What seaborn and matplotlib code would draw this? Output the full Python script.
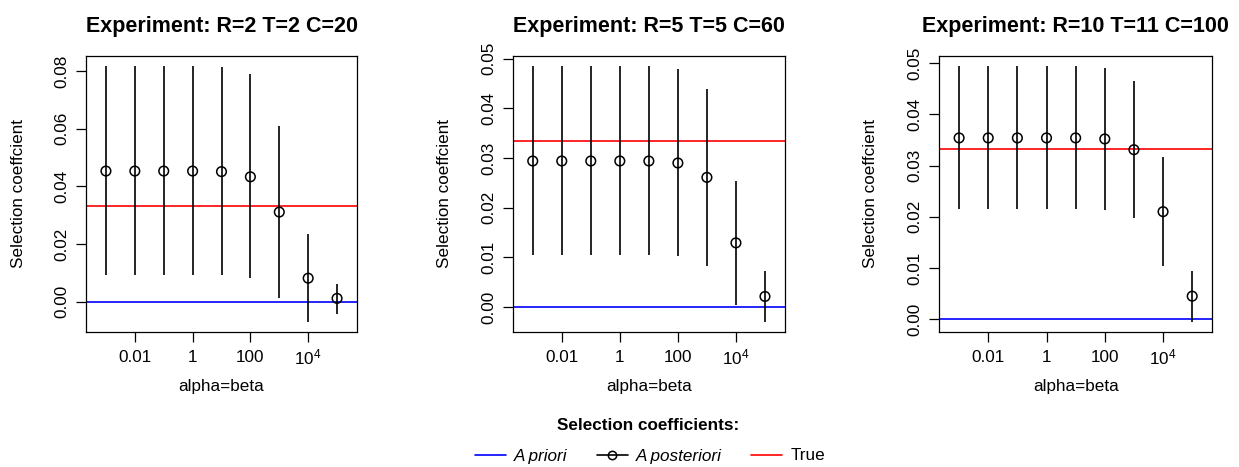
import numpy as np
import pandas as pd
import matplotlib
matplotlib.use("Agg")
import matplotlib.pyplot as plt
import matplotlib.transforms as mtransforms
from matplotlib.lines import Line2D
import seaborn as sns

# ---------------- data ----------------
alphas = [1e-3, 1e-2, 1e-1, 1e0, 1e1, 1e2, 1e3, 1e4, 1e5]
titles = ["Experiment: R=2 T=2 C=20",
          "Experiment: R=5 T=5 C=60",
          "Experiment: R=10 T=11 C=100"]
true_s = 1 / 30
prior_s = 0.0

est_1 = [0.0453, 0.0453, 0.0453, 0.0453, 0.0451, 0.0433, 0.0311, 0.0082, 0.0012]
low_1 = [0.0093, 0.0093, 0.0093, 0.0093, 0.0093, 0.0084, 0.0015, -0.0069, -0.0041]
up_1 = [0.0816, 0.0816, 0.0816, 0.0816, 0.0814, 0.0788, 0.0610, 0.0234, 0.0063]

est_2 = [0.0294, 0.0294, 0.0294, 0.0294, 0.0294, 0.0290, 0.0261, 0.0129, 0.0021]
low_2 = [0.0105, 0.0105, 0.0105, 0.0105, 0.0105, 0.0103, 0.0083, 0.0004, -0.0030]
up_2 = [0.0485, 0.0485, 0.0485, 0.0485, 0.0485, 0.0480, 0.0440, 0.0254, 0.0072]

est_3 = [0.0354, 0.0354, 0.0354, 0.0354, 0.0354, 0.0352, 0.0331, 0.0210, 0.0045]
low_3 = [0.0215, 0.0215, 0.0215, 0.0215, 0.0215, 0.0213, 0.0197, 0.0103, -0.0005]
up_3 = [0.0494, 0.0494, 0.0494, 0.0494, 0.0494, 0.0491, 0.0466, 0.0317, 0.0095]

xticks = [0.01, 1, 100, 1e4]
xticklabels = ["0.01", "1", "100", r"$10^4$"]
yticks_1 = [0.00, 0.02, 0.04, 0.06, 0.08]
yticks_23 = [0.00, 0.01, 0.02, 0.03, 0.04, 0.05]

legend_title = "Selection coefficients:"
legend_labels = ["A priori", "A posteriori", "True"]

# ---------------- style ----------------
sns.set_theme(style="ticks")
plt.rcParams["font.family"] = ["Liberation Sans", "DejaVu Sans"]
plt.rcParams["mathtext.fontset"] = "custom"
plt.rcParams["mathtext.rm"] = "Liberation Sans"
plt.rcParams["mathtext.it"] = "Liberation Sans:italic"
for key in ["text.color", "axes.labelcolor", "xtick.color", "ytick.color",
            "axes.edgecolor", "xtick.labelcolor", "ytick.labelcolor"]:
    plt.rcParams[key] = "black"

FS = 12.3
fig = plt.figure(figsize=(12.39, 4.67), dpi=100)

positions = [
    [86 / 1239, 135 / 467, 271 / 1239, 276 / 467],
    [512.7 / 1239, 135 / 467, 272.3 / 1239, 276 / 467],
    [939 / 1239, 135 / 467, 273.3 / 1239, 276 / 467],
]
series = [(est_1, low_1, up_1, yticks_1),
          (est_2, low_2, up_2, yticks_23),
          (est_3, low_3, up_3, yticks_23)]

for pos, title, (est, low, up, yt) in zip(positions, titles, series):
    ax = fig.add_axes(pos)
    df = pd.DataFrame({"alpha": alphas, "est": est, "low": low, "up": up})
    ax.set_xscale("log")
    ax.axhline(prior_s, color="#0000FF", lw=1.2, zorder=1)
    ax.axhline(true_s, color="#FF0000", lw=1.2, zorder=1)
    ax.vlines(df["alpha"], df["low"], df["up"], color="black", lw=1.2, zorder=2)
    sns.scatterplot(data=df, x="alpha", y="est", ax=ax, marker="o", s=48,
                    facecolor="none", edgecolor="black", linewidth=1.1,
                    zorder=3, legend=False)
    # R-like limits (4% padding on y)
    lo, hi = min(low), max(up)
    pad = 0.04 * (hi - lo)
    ax.set_ylim(lo - pad, hi + pad)
    ax.set_xlim(10 ** -3.69, 10 ** 5.69)
    ax.set_xticks(xticks)
    ax.set_xticklabels(xticklabels)
    ax.xaxis.set_minor_locator(matplotlib.ticker.NullLocator())
    ax.set_yticks(yt)
    ax.set_yticklabels([f"{v:.2f}" for v in yt])
    ax.tick_params(axis="both", which="major", length=7, width=0.9,
                   color="black", labelsize=FS, labelcolor="black", direction="out")
    ax.tick_params(axis="x", pad=6)
    ax.tick_params(axis="y", pad=5, labelrotation=90)
    for lab in ax.get_yticklabels():
        lab.set_va("center")
    # nudge the superscript label up slightly (R aligns it closer to the others)
    last = ax.get_xticklabels()[-1]
    last.set_transform(last.get_transform() +
                       mtransforms.ScaledTranslation(0, 2.5 / 100, fig.dpi_scale_trans))
    for sp in ax.spines.values():
        sp.set_visible(True)
        sp.set_color("black")
        sp.set_linewidth(0.9)
    ax.set_xlabel("alpha=beta", fontsize=FS, va="center")
    ax.xaxis.set_label_coords(0.5, -0.199)
    ax.set_ylabel("Selection coeffcient", fontsize=FS, va="center")
    ax.yaxis.set_label_coords(-0.250, 0.5)
    ax.set_title(title, fontsize=15.5, fontweight="bold", pad=17, color="black")
    ax.grid(False)

handles = [
    Line2D([], [], color="#0000FF", lw=1.2),
    Line2D([], [], color="black", lw=1.2, marker="o", markersize=6,
           markerfacecolor="none", markeredgecolor="black", markeredgewidth=1.1),
    Line2D([], [], color="#FF0000", lw=1.2),
]
fig.text(648 / 1239, 1 - 426 / 467, legend_title, ha="center", va="center",
         fontsize=FS, fontweight="bold")
leg = fig.legend(handles, legend_labels,
                 loc="center", bbox_to_anchor=(0.5246, 1 - 456 / 467), ncol=3,
                 frameon=False, fontsize=FS,
                 handlelength=1.8, handletextpad=0.5, columnspacing=1.7,
                 borderpad=0.0, borderaxespad=0.0)
texts = leg.get_texts()
texts[0].set_style("italic")
texts[1].set_style("italic")

fig.savefig("out.png", dpi=100)
